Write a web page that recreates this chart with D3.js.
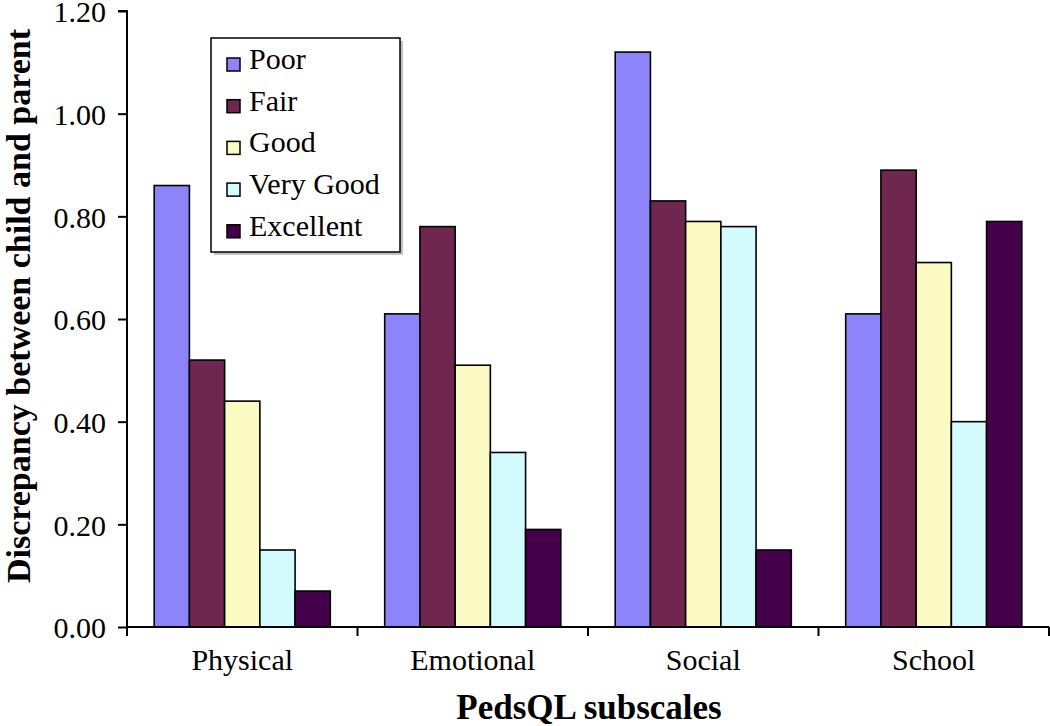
<!DOCTYPE html>
<html>
<head>
<meta charset="utf-8">
<script src="https://cdn.jsdelivr.net/npm/d3@7"></script>
<style>
  body { margin: 0; background: #fff; }
  svg { display: block; }
  svg text { font-family: "Times New Roman", "Liberation Serif", Times, serif; fill: #000; }
</style>
</head>
<body>
<svg id="chart" width="1050" height="726"></svg>
<script>
const subscales = ["Physical", "Emotional", "Social", "School"];
const ratings = ["Poor", "Fair", "Good", "Very Good", "Excellent"];
const colors = ["#8e84fa", "#6f2750", "#fbfbc3", "#d3fafc", "#45004b"];

// discrepancy per rating, in subscale order
const poor = [0.86, 0.61, 1.12, 0.61];
const fair = [0.52, 0.78, 0.83, 0.89];
const good = [0.44, 0.51, 0.79, 0.71];
const veryGood = [0.15, 0.34, 0.78, 0.40];
const excellent = [0.07, 0.19, 0.15, 0.79];
const yTicks = [0, 0.2, 0.4, 0.6, 0.8, 1.0, 1.2];

const series = [poor, fair, good, veryGood, excellent];

const svg = d3.select("#chart");
const margin = {left: 127, right: 1049, top: 11, bottom: 627};

const x0 = d3.scaleBand()
    .domain(subscales)
    .range([margin.left, margin.right]);

const groupW = x0.bandwidth() * 0.764;
const x1 = d3.scaleBand()
    .domain(ratings)
    .range([0, groupW]);

const y = d3.scaleLinear()
    .domain([0, 1.2])
    .range([margin.bottom, margin.top]);

// bars
const groups = svg.append("g").selectAll("g")
    .data(subscales)
    .enter().append("g")
    .attr("transform", d => `translate(${x0(d) + (x0.bandwidth() - groupW) / 2},0)`);

groups.selectAll("rect")
    .data((d, i) => ratings.map((r, j) => ({rating: r, value: series[j][i], c: colors[j]})))
    .enter().append("rect")
    .attr("x", d => x1(d.rating))
    .attr("width", x1.bandwidth())
    .attr("y", d => y(d.value))
    .attr("height", d => y(0) - y(d.value))
    .attr("fill", d => d.c)
    .attr("stroke", "#000")
    .attr("stroke-width", 1.6);

// y axis
const yAxis = svg.append("g")
    .attr("transform", `translate(${margin.left},0)`)
    .call(d3.axisLeft(y).tickValues(yTicks).tickFormat(d3.format(".2f")).tickSize(9).tickPadding(12));
yAxis.attr("font-family", null);
yAxis.select(".domain").attr("stroke-width", 2).attr("d", `M-9,${y(1.2)}H0V${y(0)}`);
yAxis.selectAll(".tick line").attr("stroke-width", 2);
yAxis.selectAll("text")
    .attr("dy", "0.36em")
    .style("font-size", "30px");

// x axis
const xAxis = svg.append("g")
    .attr("transform", `translate(0,${margin.bottom})`);
xAxis.append("line")
    .attr("x1", margin.left).attr("x2", margin.right)
    .attr("stroke", "#000").attr("stroke-width", 2);
xAxis.selectAll(".tk")
    .data(subscales.concat(["end"]))
    .enter().append("line")
    .attr("x1", (d, i) => i < subscales.length ? x0(d) : margin.right)
    .attr("x2", (d, i) => i < subscales.length ? x0(d) : margin.right)
    .attr("y1", 0).attr("y2", 9)
    .attr("stroke", "#000").attr("stroke-width", 2);
xAxis.selectAll("text")
    .data(subscales)
    .enter().append("text")
    .attr("x", d => x0(d) + x0.bandwidth() / 2)
    .attr("y", 43)
    .attr("text-anchor", "middle")
    .style("font-size", "30px")
    .text(d => d);

// axis titles
svg.append("text")
    .attr("x", 589).attr("y", 719)
    .attr("text-anchor", "middle")
    .style("font-size", "35px")
    .style("font-weight", "bold")
    .text("PedsQL subscales");

svg.append("text")
    .attr("transform", "translate(30,306) rotate(-90)")
    .attr("text-anchor", "middle")
    .style("font-size", "34px")
    .style("font-weight", "bold")
    .text("Discrepancy between child and parent");

// legend
const legend = svg.append("g").attr("transform", "translate(211,38)");
legend.append("rect")
    .attr("x", 3).attr("y", 3).attr("width", 189).attr("height", 214)
    .attr("fill", "#999").attr("opacity", 0.6);
legend.append("rect")
    .attr("width", 189).attr("height", 214)
    .attr("fill", "#fff").attr("stroke", "#000").attr("stroke-width", 1.5);
const items = legend.selectAll(".item")
    .data(ratings)
    .enter().append("g")
    .attr("transform", (d, i) => `translate(0,${21 + i * 41.7})`);
items.append("rect")
    .attr("x", 16).attr("y", -1).attr("width", 13).attr("height", 13)
    .attr("fill", (d, i) => colors[i])
    .attr("stroke", "#000").attr("stroke-width", 1.5);
items.append("text")
    .attr("x", 38).attr("y", 10)
    .style("font-size", "30px")
    .text(d => d);
</script>
</body>
</html>
